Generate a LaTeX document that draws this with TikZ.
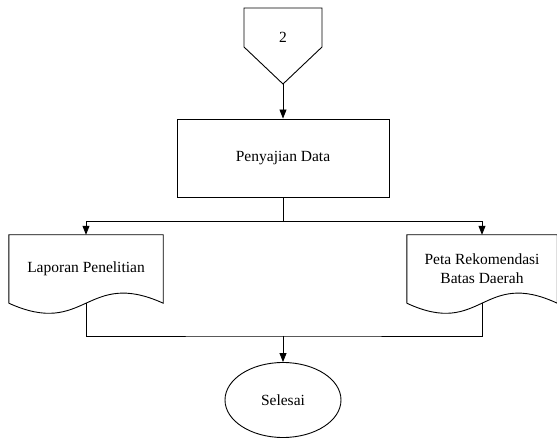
\documentclass[tikz,border=0pt]{standalone}
\usepackage{fontspec}
\setmainfont{Liberation Serif}
\usetikzlibrary{arrows.meta,calc,shapes.geometric}
\tikzset{
  garis/.style={line width=0.9pt},
  panah/.style={garis,-{Triangle[length=9pt,width=7pt]}},
  proses/.style={draw,garis,minimum width=212pt,minimum height=78pt},
  dokumen/.style={minimum height=68pt,inner sep=0pt},
  terminal/.style={draw,garis,ellipse,minimum width=116pt,minimum height=75pt}
}
\begin{document}
\begin{tikzpicture}[x=1pt,y=-1pt,font=\fontsize{15.5}{19}\selectfont]
\useasboundingbox (0,0) rectangle (557,438);

% penghubung halaman
\draw[garis] (244,8) -- (322,8) -- (322,47) -- (283,84) -- (244,47) -- cycle;
\node (dua) at (283,37) {2};
\coordinate (ujung) at (283,84);

\node[proses] (data) at (283,158) {Penyajian Data};

\node[dokumen,minimum width=154pt] (lapor) at (86,269) {Laporan Penelitian};
\node[dokumen,minimum width=150pt,align=center] (peta) at (482,269) {Peta Rekomendasi\\Batas Daerah};

\draw[garis] (lapor.south west) -- (lapor.north west) -- (lapor.north east) -- (lapor.south east)
  .. controls ($(lapor.south)+(0,-35)$) and ($(lapor.south)+(0,35)$) .. (lapor.south west);
\draw[garis] (peta.south west) -- (peta.north west) -- (peta.north east) -- (peta.south east)
  .. controls ($(peta.south)+(0,-35)$) and ($(peta.south)+(0,35)$) .. (peta.south west);

\node[terminal] (selesai) at (283,400) {Selesai};

\coordinate (cabang) at (283,221);
\coordinate (gabung) at (283,336);

\draw[panah] (ujung) -- (data.north);
\draw[garis] (data.south) -- (cabang);
\draw[panah] (cabang) -| (lapor.north);
\draw[panah] (cabang) -| (peta.north);
\draw[garis] (lapor.south) |- (gabung) -| (peta.south);
\draw[panah] (gabung) -- (selesai.north);
\end{tikzpicture}
\end{document}
